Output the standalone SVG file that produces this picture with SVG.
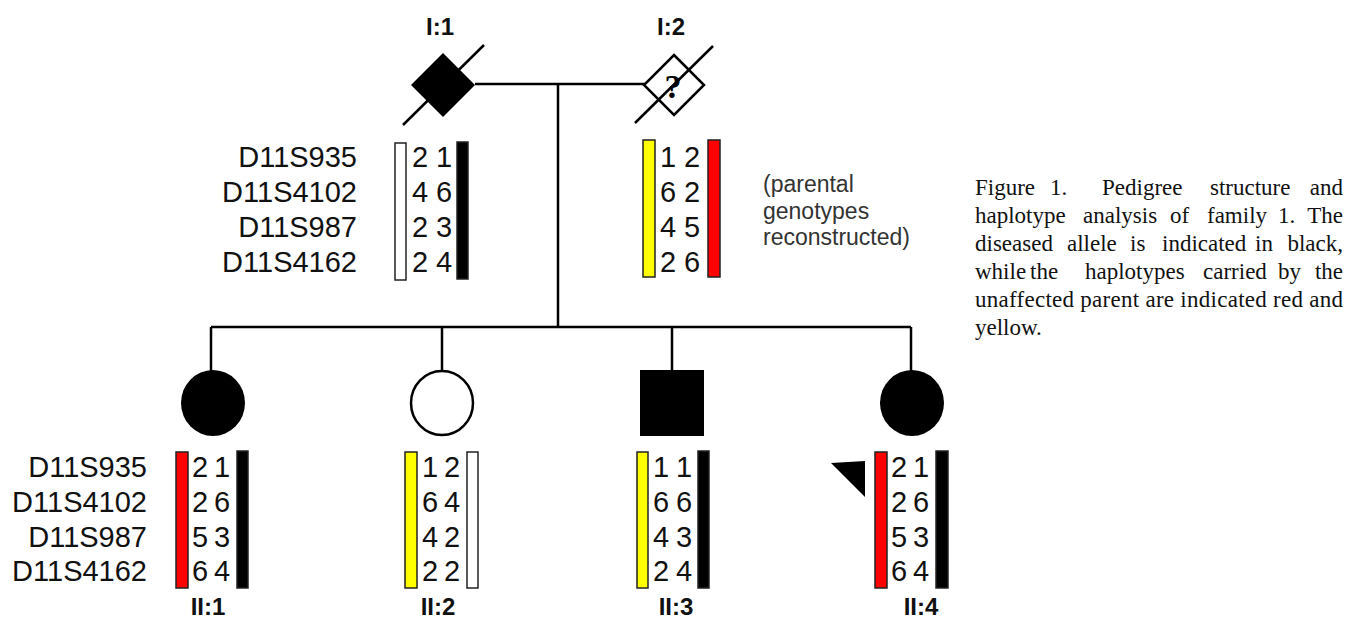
<svg xmlns="http://www.w3.org/2000/svg" width="1356" height="628" viewBox="0 0 1356 628">
<style>
.ln{stroke:#000;stroke-width:2.5;fill:none}
.mk{font-family:"Liberation Sans",Arial,sans-serif;font-size:29px;fill:#111;text-anchor:end}
.dg{font-family:"Liberation Sans",Arial,sans-serif;font-size:29px;fill:#111;text-anchor:middle}
.id{font-family:"Liberation Sans",Arial,sans-serif;font-size:24px;font-weight:bold;fill:#111;text-anchor:middle}
.nt{font-family:"Liberation Sans",Arial,sans-serif;font-size:23px;fill:#333}
.cap{font-family:"Liberation Serif","Times New Roman",serif;font-size:23px;fill:#111}
.bar{stroke:#222;stroke-width:1.5}
</style>
<rect width="1356" height="628" fill="#fff"/>
<g id="connectors">
<line class="ln" x1="475" y1="84" x2="645" y2="84"/>
<line class="ln" x1="558" y1="84" x2="558" y2="327"/>
<line class="ln" x1="211" y1="327" x2="911" y2="327"/>
<line class="ln" x1="211" y1="327" x2="211" y2="371"/>
<line class="ln" x1="442" y1="327" x2="442" y2="371"/>
<line class="ln" x1="672" y1="327" x2="672" y2="371"/>
<line class="ln" x1="911" y1="327" x2="911" y2="371"/>
</g>
<g id="I1">
<text class="id" x="440" y="35">I:1</text>
<polygon points="443,53 475,85 443,117 411,85" fill="#000"/>
<line class="ln" x1="403" y1="125" x2="484" y2="45"/>
<text class="mk" x="357" y="167">D11S935</text>
<text class="mk" x="357" y="202">D11S4102</text>
<text class="mk" x="357" y="237">D11S987</text>
<text class="mk" x="357" y="272">D11S4162</text>
<rect class="bar" x="395" y="143" width="11" height="137" fill="#fff"/>
<rect class="bar" x="457" y="142" width="11" height="137" fill="#000"/>
<text class="dg" x="420" y="167">2</text><text class="dg" x="444" y="167">1</text>
<text class="dg" x="420" y="202">4</text><text class="dg" x="444" y="202">6</text>
<text class="dg" x="420" y="237">2</text><text class="dg" x="444" y="237">3</text>
<text class="dg" x="420" y="272">2</text><text class="dg" x="444" y="272">4</text>
</g>
<g id="I2">
<text class="id" x="671" y="35">I:2</text>
<polygon points="674,55 704,85 674,115 644,85" fill="#fff" stroke="#000" stroke-width="2.5"/>
<line class="ln" x1="635" y1="123" x2="713" y2="46"/>
<text x="673" y="98" font-family="Liberation Serif,serif" font-weight="bold" font-size="34" text-anchor="middle" fill="#000">?</text>
<rect class="bar" x="643" y="140" width="12" height="137" fill="#ffff00"/>
<rect class="bar" x="708" y="140" width="12" height="137" fill="#ff0000"/>
<text class="dg" x="668" y="167">1</text><text class="dg" x="692" y="167">2</text>
<text class="dg" x="668" y="202">6</text><text class="dg" x="692" y="202">2</text>
<text class="dg" x="668" y="237">4</text><text class="dg" x="692" y="237">5</text>
<text class="dg" x="668" y="272">2</text><text class="dg" x="692" y="272">6</text>
<text class="nt" x="763" y="192">(parental</text>
<text class="nt" x="763" y="219">genotypes</text>
<text class="nt" x="763" y="245">reconstructed)</text>
</g>
<g id="II1">
<ellipse cx="213" cy="403" rx="32" ry="33" fill="#000"/>
<text class="mk" x="147" y="477">D11S935</text>
<text class="mk" x="147" y="512">D11S4102</text>
<text class="mk" x="147" y="547">D11S987</text>
<text class="mk" x="147" y="581">D11S4162</text>
<rect class="bar" x="176" y="452" width="12" height="136" fill="#ff0000"/>
<rect class="bar" x="237" y="451" width="11" height="137" fill="#000"/>
<text class="dg" x="200" y="477">2</text><text class="dg" x="222" y="477">1</text>
<text class="dg" x="200" y="512">2</text><text class="dg" x="222" y="512">6</text>
<text class="dg" x="200" y="547">5</text><text class="dg" x="222" y="547">3</text>
<text class="dg" x="200" y="581">6</text><text class="dg" x="222" y="581">4</text>
<text class="id" x="208" y="615">II:1</text>
</g>
<g id="II2">
<ellipse cx="442" cy="403" rx="31" ry="32" fill="#fff" stroke="#000" stroke-width="2.5"/>
<rect class="bar" x="405" y="452" width="12" height="136" fill="#ffff00"/>
<rect class="bar" x="467" y="452" width="11" height="136" fill="#fff"/>
<text class="dg" x="430" y="477">1</text><text class="dg" x="452" y="477">2</text>
<text class="dg" x="430" y="512">6</text><text class="dg" x="452" y="512">4</text>
<text class="dg" x="430" y="547">4</text><text class="dg" x="452" y="547">2</text>
<text class="dg" x="430" y="581">2</text><text class="dg" x="452" y="581">2</text>
<text class="id" x="438" y="615">II:2</text>
</g>
<g id="II3">
<rect x="640" y="370" width="64" height="66" fill="#000"/>
<rect class="bar" x="637" y="452" width="11" height="136" fill="#ffff00"/>
<rect class="bar" x="698" y="451" width="11" height="137" fill="#000"/>
<text class="dg" x="661" y="477">1</text><text class="dg" x="684" y="477">1</text>
<text class="dg" x="661" y="512">6</text><text class="dg" x="684" y="512">6</text>
<text class="dg" x="661" y="547">4</text><text class="dg" x="684" y="547">3</text>
<text class="dg" x="661" y="581">2</text><text class="dg" x="684" y="581">4</text>
<text class="id" x="676" y="615">II:3</text>
</g>
<g id="II4">
<ellipse cx="912" cy="403" rx="32" ry="33" fill="#000"/>
<polygon points="831,463 865,461 865,497" fill="#000"/>
<rect class="bar" x="875" y="452" width="12" height="136" fill="#ff0000"/>
<rect class="bar" x="936" y="451" width="12" height="137" fill="#000"/>
<text class="dg" x="899" y="477">2</text><text class="dg" x="921" y="477">1</text>
<text class="dg" x="899" y="512">2</text><text class="dg" x="921" y="512">6</text>
<text class="dg" x="899" y="547">5</text><text class="dg" x="921" y="547">3</text>
<text class="dg" x="899" y="581">6</text><text class="dg" x="921" y="581">4</text>
<text class="id" x="921" y="615">II:4</text>
</g>
<g id="caption" class="cap">
<text x="975" y="195">Figure</text><text x="1050" y="195">1.</text><text x="1102" y="195">Pedigree</text><text x="1210" y="195">structure</text><text x="1343" y="195" text-anchor="end">and</text>
<text x="975" y="223">haplotype</text><text x="1083" y="223">analysis</text><text x="1170" y="223">of</text><text x="1207" y="223">family</text><text x="1278" y="223">1.</text><text x="1343" y="223" text-anchor="end">The</text>
<text x="975" y="251">diseased</text><text x="1067" y="251">allele</text><text x="1130" y="251">is</text><text x="1162" y="251">indicated</text><text x="1255" y="251">in</text><text x="1343" y="251" text-anchor="end">black,</text>
<text x="975" y="279">while</text><text x="1030" y="279">the</text><text x="1085" y="279">haplotypes</text><text x="1203" y="279">carried</text><text x="1278" y="279">by</text><text x="1343" y="279" text-anchor="end">the</text>
<text x="975" y="307" textLength="368" lengthAdjust="spacing">unaffected parent are indicated red and</text>
<text x="975" y="335">yellow.</text>
</g>
</svg>
